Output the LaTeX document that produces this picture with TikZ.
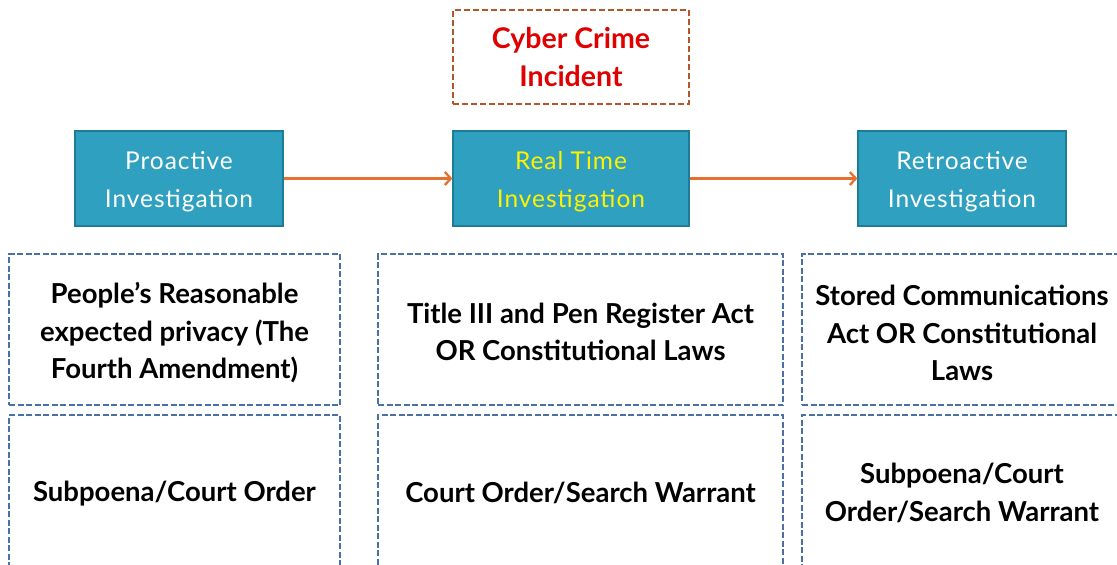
\documentclass[tikz,border=0pt]{standalone}
\usepackage{fontspec}
\setmainfont{Lato}
\newfontfamily\spacedfont[LetterSpace=4]{Lato}
\usetikzlibrary{arrows.meta}
\definecolor{boxblue}{HTML}{2FA0BF}
\definecolor{boxedge}{HTML}{1E7D96}
\definecolor{dashblue}{HTML}{4A70A8}
\definecolor{dashbrown}{HTML}{B5562A}
\definecolor{arroworange}{HTML}{E8702F}
\definecolor{incred}{HTML}{E00000}
\tikzset{
  phase/.style={draw=boxedge, line width=1.2pt, fill=boxblue,
    minimum width=208pt, minimum height=95pt, inner sep=0pt},
  phasetext/.style={align=center, text=white,
    font=\spacedfont\fontsize{24.5}{38}\selectfont},
  lawbox/.style={draw=dashblue, line width=1.8pt, dash pattern=on 6pt off 2.5pt,
    inner sep=0pt},
  lawtext/.style={align=center, font=\bfseries\fontsize{27.5}{37.5}\selectfont},
  incbox/.style={draw=dashbrown, line width=1.9pt, dash pattern=on 6pt off 3pt,
    minimum width=236pt, minimum height=94pt, inner sep=0pt, align=center,
    text=incred, font=\bfseries\fontsize{28.5}{38}\selectfont},
  flow/.style={draw=arroworange, line width=2.3pt, -{Straight Barb[length=6pt,width=13pt]}}
}
\begin{document}
\begin{tikzpicture}[x=1pt,y=-1pt]
\clip (0,0) rectangle (1117,565);
\fill[white] (0,0) rectangle (1117,565);
\node[incbox] (inc) at (571,57) {Cyber Crime\\Incident};
\node[phase] (pro) at (179,178.5) {};
\node[phasetext] (prot) at (179,182) {Proactive\\Investigation};
\node[phase, minimum width=236pt] (real) at (571,178.5) {};
\node[phasetext, text=yellow] (realt) at (571,182) {Real Time\\Investigation};
\node[phase] (retro) at (962,178.5) {};
\node[phasetext] (retrot) at (962,182) {Retroactive\\Investigation};
\draw[flow] (pro) -- (real);
\draw[flow] (real) -- (retro);
\node[lawbox, minimum width=331pt, minimum height=151pt] (l1) at (174.5,329.5) {};
\node[lawtext] (l1t) at (174.5,333) {People's Reasonable\\expected privacy (The\\Fourth Amendment)};
\node[lawbox, minimum width=405pt, minimum height=151pt] (l2) at (580.5,329.5) {};
\node[lawtext] (l2t) at (580.5,332) {Title III and Pen Register Act\\OR Constitutional Laws};
\node[lawbox, minimum width=330pt, minimum height=151pt] (l3) at (967,329.5) {};
\node[lawtext] (l3t) at (962,333) {Stored Communications\\Act OR Constitutional\\Laws};
\node[lawbox, minimum width=331pt, minimum height=160pt] (o1) at (174.5,495) {};
\node[lawtext] (o1t) at (174.5,494) {Subpoena/Court Order};
\node[lawbox, minimum width=405pt, minimum height=160pt] (o2) at (580.5,495) {};
\node[lawtext] (o2t) at (580.5,493) {Court Order/Search Warrant};
\node[lawbox, minimum width=330pt, minimum height=160pt] (o3) at (967,495) {};
\node[lawtext] (o3t) at (962,493) {Subpoena/Court\\Order/Search Warrant};
\end{tikzpicture}
\end{document}
